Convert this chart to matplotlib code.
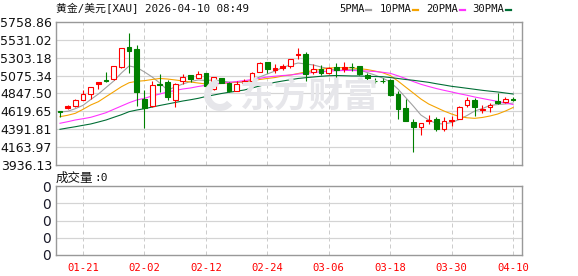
import matplotlib
matplotlib.use('Agg')
import matplotlib.pyplot as plt
from matplotlib.patches import Rectangle, Wedge
from matplotlib.lines import Line2D

# ---------------- data ----------------
title = '黄金/美元[XAU] 2026-04-10 08:49'
tick_idx = [3, 11, 19, 27, 35, 43, 51, 59]
tick_labels = ['01-21', '02-02', '02-12', '02-24', '03-06', '03-18', '03-30', '04-10']
price_ticks = [3936.13, 4163.97, 4391.81, 4619.65, 4847.50, 5075.34, 5303.18, 5531.02, 5758.86]
legend_names = ['5PMA', '10PMA', '20PMA', '30PMA']

opens = [4624, 4659, 4684, 4765, 4845, 4965, 5016, 5036, 5189, 5436,
         5411, 4781, 4688, 4973, 4994, 4769, 5011, 5079, 5045, 5113,
         4901, 5045, 4978, 4883, 4985, 5011, 5125, 5249, 5147, 5176,
         5198, 5334, 5351, 5125, 5160, 5105, 5189, 5164, 5189, 5194,
         5087, 5011, 5009, 5020, 4841, 4667, 4484, 4424, 4493, 4522,
         4395, 4501, 4527, 4697, 4765, 4641, 4671, 4752, 4739, 4777]
highs = [4626, 4701, 4781, 4892, 4934, 4992, 5122, 5196, 5426, 5622,
         5470, 4892, 5007, 5096, 5020, 4985, 5096, 5081, 5130, 5115,
         5062, 5050, 4994, 5007, 5028, 5122, 5253, 5251, 5224, 5227,
         5290, 5427, 5380, 5220, 5211, 5185, 5240, 5249, 5232, 5196,
         5105, 5045, 5045, 5028, 4883, 4781, 4527, 4470, 4575, 4544,
         4552, 4561, 4688, 4799, 4790, 4705, 4730, 4858, 4799, 4799]
lows = [4552, 4655, 4680, 4762, 4781, 4909, 4990, 5020, 5176, 5113,
        4688, 4412, 4671, 4870, 4765, 4671, 4973, 4994, 5043, 4883,
        4892, 4980, 4867, 4879, 4973, 5009, 5122, 5113, 5113, 5151,
        5173, 5291, 5011, 5096, 5087, 5096, 5028, 5117, 5138, 5079,
        4994, 4985, 4985, 4816, 4519, 4495, 4098, 4315, 4455, 4369,
        4373, 4433, 4519, 4671, 4564, 4603, 4612, 4714, 4723, 4748]
closes = [4610, 4684, 4761, 4841, 4934, 4990, 5007, 5194, 5424, 5393,
          4870, 4659, 4952, 4960, 4799, 4965, 5062, 5036, 5096, 4947,
          5054, 4985, 4879, 4965, 5011, 5113, 5240, 5160, 5173, 5198,
          5283, 5351, 5096, 5156, 5105, 5173, 5147, 5189, 5181, 5092,
          5041, 5007, 5005, 4828, 4654, 4501, 4417, 4467, 4510, 4390,
          4497, 4510, 4671, 4765, 4679, 4654, 4705, 4730, 4773, 4769]

ma5 = [4612, 4621, 4654, 4697, 4771, 4841, 4924, 5007, 5109, 5198,
       5179, 5122, 5058, 4981, 4892, 4930, 4969, 5000, 5020, 5013,
       5020, 5007, 4994, 4988, 4994, 5013, 5058, 5096, 5134, 5179,
       5211, 5236, 5224, 5211, 5185, 5166, 5141, 5147, 5153, 5147,
       5115, 5083, 5045, 4994, 4905, 4797, 4688, 4573, 4510, 4465,
       4459, 4478, 4516, 4567, 4624, 4656, 4695, 4707, 4714, 4726]
ma10 = [4552, 4570, 4595, 4646, 4701, 4743, 4807, 4870, 4934, 4985,
        5003, 5011, 5026, 5039, 5032, 5020, 5007, 4994, 4981, 4969,
        4969, 4975, 4981, 4994, 5000, 5013, 5026, 5039, 5051, 5071,
        5083, 5102, 5122, 5141, 5156, 5173, 5176, 5179, 5173, 5164,
        5153, 5134, 5113, 5077, 5007, 4930, 4854, 4777, 4714, 4669,
        4624, 4586, 4554, 4538, 4531, 4542, 4561, 4586, 4624, 4669]
ma20 = [4468, 4488, 4510, 4526, 4544, 4573, 4603, 4646, 4688, 4730,
        4765, 4786, 4816, 4841, 4867, 4886, 4905, 4918, 4937, 4952,
        4969, 4979, 4988, 5000, 5011, 5026, 5041, 5058, 5068, 5077,
        5083, 5096, 5105, 5115, 5125, 5134, 5138, 5141, 5141, 5138,
        5134, 5128, 5118, 5105, 5073, 5039, 5000, 4965, 4937, 4911,
        4888, 4867, 4845, 4825, 4803, 4784, 4765, 4746, 4726, 4707]
ma30 = [4391, 4408, 4424, 4442, 4459, 4484, 4510, 4544, 4577, 4616,
        4637, 4654, 4675, 4695, 4714, 4733, 4752, 4768, 4786, 4809,
        4828, 4847, 4863, 4877, 4892, 4918, 4943, 4969, 4990, 5007,
        5023, 5039, 5049, 5058, 5067, 5074, 5077, 5074, 5071, 5071,
        5067, 5064, 5062, 5051, 5039, 5026, 5016, 5003, 4990, 4972,
        4956, 4939, 4927, 4914, 4901, 4888, 4877, 4867, 4854, 4841]

# ---------------- style ----------------
W, H = 578, 276
UP = '#ff0000'
DOWN = '#008000'
MA_COLORS = ['#a0a0a0', '#f5a300', '#ff33ff', '#006e35']
GRID = '#d4d4d4'
SPINE = '#999999'
MONO = ['DejaVu Sans Mono', 'Noto Sans CJK SC']
CJK = ['Noto Sans CJK SC', 'DejaVu Sans']
PX = 0.72  # 1 px in points at dpi 100

fig = plt.figure(figsize=(W / 100, H / 100), dpi=100)
fig.patch.set_facecolor('white')


def fx(px):
    return px / W


def fy(py):
    return 1 - py / H


ax = fig.add_axes([fx(56), fy(165), fx(466), 143 / H])
axv = fig.add_axes([fx(56), fy(255), fx(466), 69 / H])

n = len(closes)
xs = list(range(n))
xl = (-0.52, 60.16)

# watermark
fig.text(fx(309), fy(96), '东方财富', fontsize=25, color='#e6e6ea', family=CJK,
         fontweight='bold', ha='center', va='center', zorder=0)
wd = Wedge((2.20, 2.76 - 0.95), 0.16, 100, 320, width=0.07,
           transform=fig.dpi_scale_trans, facecolor='#e6e6ea', edgecolor='none', zorder=0)
fig.patches.append(wd)

for a in (ax, axv):
    a.set_facecolor('none')
    a.set_xlim(*xl)
    for s in a.spines.values():
        s.set_color(SPINE)
        s.set_linewidth(1.4 * PX)
    a.tick_params(length=0)
    for t in tick_idx:
        a.axvline(t, color='#cccccc', lw=1 * PX, ls=(0, (4, 3)), zorder=0.5)

# main panel
ax.set_ylim(price_ticks[0], price_ticks[-1])
ax.set_yticks(price_ticks)
ax.set_yticklabels([f'{v:.2f}' for v in price_ticks], fontsize=9, family='DejaVu Sans', color='#111111')
ax.tick_params(axis='y', pad=3)
ax.set_xticks([])
for v in price_ticks[1:-1]:
    ax.axhline(v, color=GRID, lw=1.2 * PX, zorder=0.5)

# moving averages
for ma, c in zip([ma5, ma10, ma20, ma30], MA_COLORS):
    ax.plot(xs, ma, color=c, lw=1.1 * PX, zorder=2, solid_joinstyle='miter')

# candles
bw = 0.62
for i in xs:
    o, h, l, c = opens[i], highs[i], lows[i], closes[i]
    up = c >= o
    col = UP if up else DOWN
    lo, hi = min(o, c), max(o, c)
    ax.vlines(i, l, lo, color=col, lw=1.1 * PX, zorder=3)
    ax.vlines(i, hi, h, color=col, lw=1.1 * PX, zorder=3)
    fc = 'white' if (up and hi - lo > 30) else col
    ax.add_patch(Rectangle((i - bw / 2, lo), bw, max(hi - lo, 3), facecolor=fc,
                           edgecolor=col, lw=1.1 * PX, zorder=4))

# volume panel
axv.set_ylim(0, 4)
axv.set_yticks([0, 1, 2, 3, 4])
axv.set_yticklabels(['0'] * 5, fontsize=10, family='DejaVu Sans', color='#1a1a2a')
axv.tick_params(axis='y', pad=4)
for v in [1, 2, 3]:
    axv.axhline(v, color=GRID, lw=1.2 * PX, zorder=0.5)
axv.set_xticks(tick_idx)
axv.set_xticklabels(tick_labels, fontsize=7.6, family=MONO, color='#ff0000')
axv.tick_params(axis='x', pad=6)

# title & legend
fig.text(fx(56), fy(9), title, fontsize=7.8, family=MONO, color='#111111', ha='left', va='center')
leg_x = [339, 380, 426, 472]
mk_x = [366, 413, 460, 506]
for name, tx, mx, c in zip(legend_names, leg_x, mk_x, MA_COLORS):
    fig.text(fx(tx), fy(9), name, fontsize=7.6, family=MONO, color='#111111', ha='left', va='center')
    fig.add_artist(Line2D([fx(mx), fx(mx + 5)], [fy(9.5), fy(9.5)], color=c, lw=2.2 * PX,
                          transform=fig.transFigure))

fig.text(fx(56), fy(178), '成交量', fontsize=9, family=CJK, color='#111111', ha='left', va='center')
fig.text(fx(94), fy(178), ':0', fontsize=8, family=MONO, color='#111111', ha='left', va='center')

fig.savefig('out.png', dpi=100, facecolor='white')
